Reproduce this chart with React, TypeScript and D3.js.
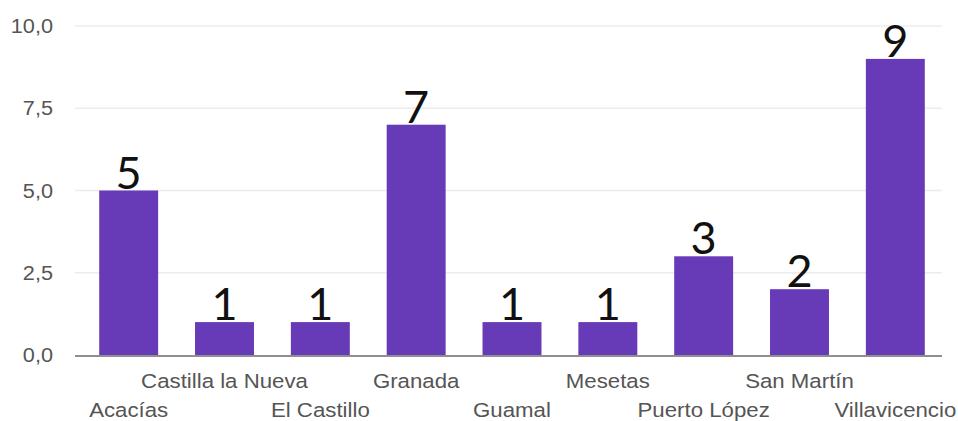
import React from "react";
import * as d3 from "d3";

// Municipalities and their counts
const categories = [
  "Acacías",
  "Castilla la Nueva",
  "El Castillo",
  "Granada",
  "Guamal",
  "Mesetas",
  "Puerto López",
  "San Martín",
  "Villavicencio",
];
const values = [5, 1, 1, 7, 1, 1, 3, 2, 9];
const yTicks = [0, 2.5, 5, 7.5, 10];

const W = 958;
const H = 421;
const plotLeft = 75;
const plotRight = 942;
const bandLeft = 81;
const bandRight = 943;
const yTop = 26;
const yBottom = 355;

const BAR = "#673ab7";
const LABEL_FONT = "'Liberation Sans', Arial, sans-serif";
// axis text is drawn slightly wide
const STRETCH = 1.085;

export default function App() {
  const x = d3
    .scaleBand<string>()
    .domain(categories)
    .range([bandLeft, bandRight])
    .paddingInner(0.385)
    .paddingOuter(0.19);
  const y = d3.scaleLinear().domain([0, 10]).range([yBottom, yTop]);
  const fmt = (v: number) => d3.format(".1f")(v).replace(".", ",");
  const cx = (c: string) => (x(c) ?? 0) + x.bandwidth() / 2;

  return (
    <svg
      width={W}
      height={H}
      style={{ position: "absolute", left: 0, top: 0, background: "#fff" }}
    >
      {/* horizontal gridlines and tick labels */}
      {yTicks.map((t) => (
        <g key={t}>
          {t > 0 && (
            <line
              x1={plotLeft}
              x2={plotRight}
              y1={y(t)}
              y2={y(t)}
              stroke="#ececec"
              strokeWidth={1.5}
            />
          )}
          <text
            transform={`translate(53,${y(t)}) scale(${STRETCH},1)`}
            dy="0.36em"
            textAnchor="end"
            fontFamily={LABEL_FONT}
            fontSize={20}
            fill="#555"
          >
            {fmt(t)}
          </text>
        </g>
      ))}

      {/* bars */}
      {categories.map((c, i) => (
        <rect
          key={c}
          x={x(c)}
          y={y(values[i])}
          width={x.bandwidth()}
          height={y(0) - y(values[i])}
          fill={BAR}
        />
      ))}

      {/* baseline */}
      <line
        x1={plotLeft}
        x2={plotRight}
        y1={y(0) + 1}
        y2={y(0) + 1}
        stroke="#8f8f8f"
        strokeWidth={2.2}
      />

      {/* value labels */}
      {categories.map((c, i) => (
        <text
          key={c}
          x={cx(c)}
          y={y(values[i]) - 2}
          textAnchor="middle"
          fontFamily="Lato, 'DejaVu Sans', sans-serif"
          fontSize={45}
          fill="#111"
        >
          {values[i]}
        </text>
      ))}

      {/* category labels, staggered on two rows */}
      {categories.map((c, i) => (
        <text
          key={c}
          transform={`translate(${cx(c)},${i % 2 === 1 ? 388 : 417}) scale(${STRETCH},1)`}
          textAnchor="middle"
          fontFamily={LABEL_FONT}
          fontSize={20.5}
          fill="#555"
        >
          {c}
        </text>
      ))}
    </svg>
  );
}
